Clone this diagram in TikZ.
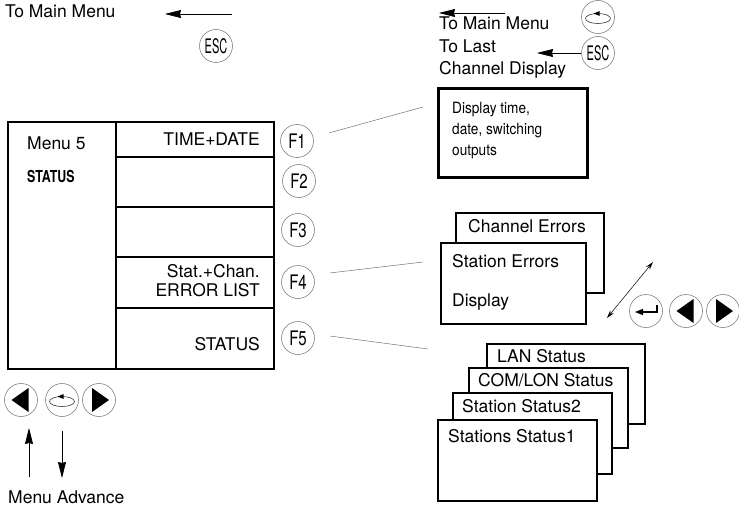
\documentclass[tikz,border=0pt]{standalone}
\usepackage{fontspec}
\setmainfont{TeX Gyre Heros}
\newfontfamily\condfont[FakeStretch=0.88]{TeX Gyre Heros}
\newfontfamily\keyfont[FakeStretch=0.75]{TeX Gyre Heros}
\newfontfamily\escfont[FakeStretch=0.55]{TeX Gyre Heros}
\usetikzlibrary{arrows.meta}

\tikzset{
  box/.style={draw, line width=2.3pt, fill=white, anchor=north west},
  wire/.style={draw=black!55, line width=0.5pt},
  key/.style={circle, draw=black!50, line width=0.6pt, minimum size=33pt,
    font=\keyfont\fontsize{20}{20}\selectfont},
  esckey/.style={key, font=\escfont\fontsize{20}{20}\selectfont},
  leftkey/.style={key, path picture={
    \fill[black] ([xshift=-9.5pt]path picture bounding box.center)
      -- ++(17pt,12pt) -- ++(0,-24pt) -- cycle;}},
  rightkey/.style={key, path picture={
    \fill[black] ([xshift=10pt]path picture bounding box.center)
      -- ++(-17pt,12pt) -- ++(0,-24pt) -- cycle;}},
  rotkey/.style={key, path picture={
    \draw[black!80, line width=0.6pt] ([yshift=-1.5pt]path picture bounding box.center)
      ellipse [x radius=12.5pt, y radius=5pt];
    \fill[black] ([shift={(-4.5pt,3.5pt)}]path picture bounding box.center)
      -- ++(6pt,2.4pt) -- ++(0,-4.8pt) -- cycle;}},
  enterkey/.style={key, path picture={
    \draw[black, line width=1.1pt, -{Stealth[length=8pt,width=6pt,inset=0pt]}]
      ([shift={(11pt,6pt)}]path picture bounding box.center)
      -- ++(0,-7pt) -- ++(-22pt,0);}}
}

\begin{document}
\begin{tikzpicture}[x=1pt, y=-1pt, >={Stealth[length=16pt,width=8pt,inset=1pt]},
  every node/.style={inner sep=0pt, font=\fontsize{17.5}{22}\selectfont}]

\useasboundingbox (0,0) rectangle (739,511);

% define the menu panel
  \node[box, minimum width=108pt, minimum height=247pt] (menu) at (7,121) {};
  \node[box, minimum width=158pt, minimum height=35pt] (row1) at (115,121) {};
  \node[box, minimum width=158pt, minimum height=50pt] (row2) at (115,156) {};
  \node[box, minimum width=158pt, minimum height=50pt] (row3) at (115,206) {};
  \node[box, minimum width=158pt, minimum height=51pt] (row4) at (115,256) {};
  \node[box, minimum width=158pt, minimum height=61pt] (row5) at (115,307) {};

  \node[anchor=base west] (mnum) at (27,149) {Menu 5};
  \node[anchor=base west, font=\keyfont\bfseries\fontsize{16.5}{16}\selectfont]
    (mname) at (27,182) {STATUS};
  \node[anchor=base east] (time) at (260,145) {TIME+DATE};
  \node[anchor=north east, align=right, font=\fontsize{17.5}{19.5}\selectfont]
    (errl) at (260,264) {Stat.+Chan.\\ERROR LIST};
  \node[anchor=base east] (stat) at (260,350) {STATUS};

% define the function keys
  \node[key] (F1) at (297,141) {F1};
  \node[key] (F2) at (299,181) {F2};
  \node[key] (F3) at (298,230) {F3};
  \node[key] (F4) at (298,282) {F4};
  \node[key] (F5) at (298,338) {F5};

% define the display boxes
  \node[box, line width=2.5pt, minimum width=149pt, minimum height=89pt] (disp) at (437,87) {};
  \node[anchor=north west, align=left, font=\condfont\fontsize{15.5}{21}\selectfont]
    (dtxt) at (452,102) {Display time,\\date, switching\\outputs};

  \node[box, minimum width=148pt, minimum height=80pt] (cherr) at (455,212) {};
  \node[box, minimum width=145pt, minimum height=81pt] (sterr) at (440,242) {};
  \node[anchor=base west] (cherrt) at (468,232) {Channel Errors};
  \node[anchor=base west] (sterrt) at (452,267) {Station Errors};
  \node[anchor=base west] (dispt) at (452,306) {Display};

  \node[box, minimum width=158pt, minimum height=80pt] (lan) at (486,343) {};
  \node[box, minimum width=159pt, minimum height=80pt] (com) at (468,367) {};
  \node[box, minimum width=159pt, minimum height=81pt] (st2) at (452,392) {};
  \node[box, minimum width=159pt, minimum height=81pt] (st1) at (437,419) {};
  \node[anchor=base west] (lant) at (497,362) {LAN Status};
  \node[anchor=base west] (comt) at (478,386) {COM/LON Status};
  \node[anchor=base west] (st2t) at (462,412) {Station Status2};
  \node[anchor=base west] (st1t) at (448,442) {Stations Status1};

% define the links
  \coordinate (f1end) at (423,107);
  \coordinate (f4end) at (423,262);
  \coordinate (f5end) at (428,349);
  \path[wire] ([shift={(15,-8)}]F1.east) -- (f1end)
              ([shift={(15,-9)}]F4.east) -- (f4end)
              ([shift={(15,-2)}]F5.east) -- (f5end);

% top left: back to main menu
  \node[anchor=base west] (mainl) at (5,18) {To Main Menu};
  \node[esckey] (escl) at (216,46) {ESC};
  \coordinate (mainla) at (232,14);
  \coordinate (mainlb) at (165,14);
  \draw[->, line width=0.7pt] (mainla) -- (mainlb);

% top right: back to main menu / last channel
  \node[anchor=north west, align=left, font=\fontsize{17.5}{22.5}\selectfont]
    (mainr) at (439,17) {To Main Menu\\To Last\\Channel Display};
  \node[rotkey] (rotr) at (598,17) {};
  \node[esckey] (escr) at (598,53) {ESC};
  \coordinate (mainra) at (505,13);
  \coordinate (mainrb) at (439,13);
  \coordinate (lastend) at (537,53);
  \draw[->, line width=0.7pt] (mainra) -- (mainrb);
  \draw[->, line width=0.7pt] (escr.west) -- (lastend);

% navigation keys on the right
  \coordinate (nava) at (607,318);
  \coordinate (navb) at (653,262);
  \draw[{Stealth[length=8pt,width=4.5pt]}-{Stealth[length=8pt,width=4.5pt]}, line width=0.5pt]
    (nava) -- (navb);
  \node[enterkey] (enter) at (646,311) {};
  \node[leftkey] (leftr) at (686,311) {};
  \node[rightkey] (rightr) at (723,311) {};

% menu advance keys
  \node[leftkey] (leftl) at (21,400) {};
  \node[rotkey] (rotl) at (62,400) {};
  \node[rightkey] (rightl) at (99,400) {};
  \node[anchor=base west] (adv) at (8,503) {Menu Advance};
  \coordinate (upfoot) at (29,477);
  \coordinate (uptip) at (29,428);
  \coordinate (downtop) at (62,431);
  \coordinate (downfoot) at (62,478);
  \draw[->, line width=0.7pt] (upfoot) -- (uptip);
  \draw[->, line width=0.7pt] (downtop) -- (downfoot);

\end{tikzpicture}
\end{document}
